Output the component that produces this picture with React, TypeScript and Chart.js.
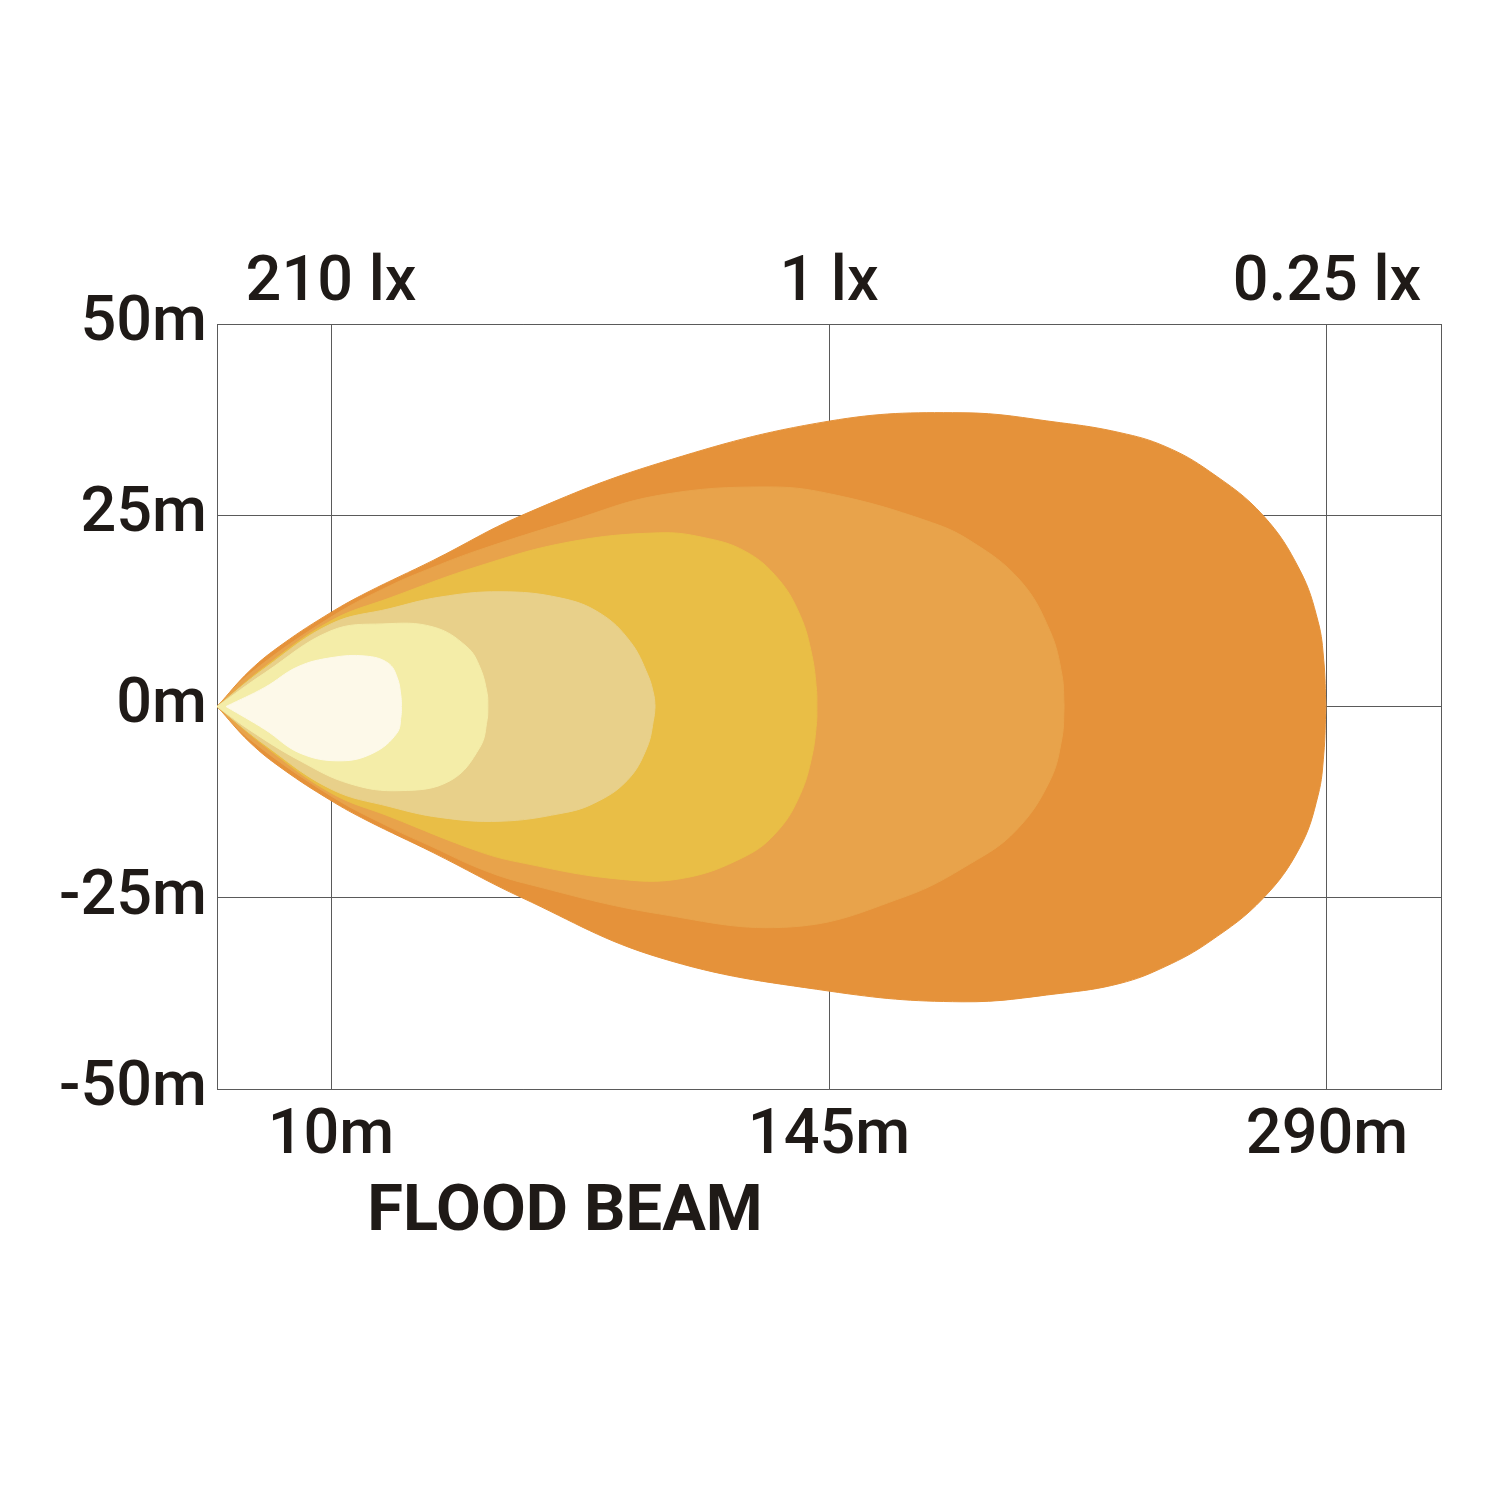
import React, { useEffect, useRef } from "react";
import { Chart, registerables } from "chart.js";

Chart.register(...registerables);

// ---- axis data ----
const X_MIN = -22.05;
const X_MAX = 322.05;
const X_TICKS = [10, 150, 290];
const X_LABELS = ["10m", "145m", "290m"];
const TOP_LABELS = ["210 lx", "1 lx", "0.25 lx"];
const Y_TICKS = [-50, -25, 0, 25, 50];
const Y_LABELS = ["-50m", "-25m", "0m", "25m", "50m"];
const CHART_TITLE = "FLOOD BEAM";

// ---- beam contours (distance, lateral offset in m) ----
const OUTER_UPPER = [
  [-22.0, 0], [-12.8, 4.7], [-3.5, 8.2], [10.0, 12.3], [20.1, 14.9], [38.7, 19.1],
  [63.7, 25.0], [102.2, 31.8], [150.0, 37.3], [187.4, 38.4], [215.0, 37.1], [231.8, 35.8],
  [244.5, 34.0], [257.1, 30.7], [272.0, 25.0], [282.4, 17.8], [287.5, 11.1], [289.1, 6.0], [289.7, 0],
];
const OUTER_LOWER = [
  [-22.0, 0], [-12.8, -4.7], [-3.5, -8.2], [10.0, -12.3], [20.1, -14.9], [38.7, -19.1],
  [63.7, -25.0], [102.2, -32.8], [150.0, -37.2], [187.4, -38.6], [215.0, -37.5], [231.8, -36.2],
  [244.5, -34.0], [257.1, -30.7], [272.0, -25.1], [282.4, -18.4], [287.5, -11.6], [289.1, -6.2], [289.7, 0],
];
const SECOND_UPPER = [
  [-22.0, 0], [-12.8, 4.3], [10.0, 11.7], [26.6, 15.8], [38.7, 18.2], [51.9, 20.5],
  [76.9, 24.2], [102.1, 27.6], [133.4, 28.7], [152.3, 27.6], [177.3, 24.3], [189.6, 21.7],
  [203.7, 16.5], [212.1, 9.9], [215.5, 4.1], [216.1, 0],
];
const SECOND_LOWER = [
  [-22.0, 0], [-12.8, -4.3], [10.0, -11.7], [26.6, -15.8], [38.7, -18.4], [51.9, -21.2],
  [64.4, -23.1], [102.1, -27.1], [139.7, -28.8], [171.1, -24.9], [189.9, -20.5], [202.6, -16.2],
  [212.1, -9.7], [215.5, -4.1], [216.1, 0],
];
const YELLOW_UPPER = [
  [-22.0, 0], [-8.6, 5.2], [10.0, 11.2], [26.6, 14.2], [51.9, 18.4], [76.9, 21.5],
  [102.1, 22.7], [114.6, 22.1], [126.4, 20.3], [135.7, 16.7], [141.9, 11.9], [145.2, 6.7],
  [146.5, 2.1], [146.6, 0],
];
const YELLOW_LOWER = [
  [-22.0, 0], [-8.6, -5.2], [10.0, -11.3], [26.6, -14.4], [51.9, -19.0], [64.4, -20.5],
  [89.6, -22.5], [108.4, -22.5], [126.4, -19.6], [135.7, -16.2], [141.9, -11.5], [145.2, -6.5],
  [146.5, -2.1], [146.6, 0],
];
const TAN_UPPER = [
  [-22.0, 0], [-8.6, 5.0], [10.0, 10.8], [26.6, 12.8], [40.6, 14.3], [57.5, 15.0],
  [74.4, 14.2], [85.6, 12.2], [94.1, 8.5], [99.1, 4.1], [100.8, 1.4], [101.1, 0],
];
const TAN_LOWER = [
  [-22.0, 0], [-8.6, -5.0], [10.0, -10.8], [26.6, -13.1], [40.6, -14.5], [57.5, -15.0],
  [74.4, -14.0], [83.7, -12.7], [93.2, -9.7], [98.8, -5.4], [100.8, -1.4], [101.1, 0],
];
const PALE_UPPER = [
  [-22.0, 0], [-8.6, 4.4], [10.0, 9.9], [24.6, 10.8], [38.7, 10.4], [48.2, 7.8],
  [51.9, 5.1], [53.9, 1.7], [54.1, 0],
];
const PALE_LOWER = [
  [-22.0, 0], [-12.8, -3.1], [1.3, -7.1], [15.3, -10.1], [29.4, -11.0], [43.5, -9.7],
  [51.9, -5.3], [53.9, -1.7], [54.1, 0],
];
const CREAM_UPPER = [
  [-19.5, 0], [-8.6, 2.5], [0.7, 5.2], [10.3, 6.4], [19.6, 6.6], [26.0, 5.7],
  [28.6, 3.8], [29.7, 1.2], [29.8, 0],
];
const CREAM_LOWER = [
  [-19.5, 0], [-8.6, -3.0], [1.3, -6.1], [12.5, -7.1], [21.8, -6.1], [28.5, -3.5],
  [29.7, -1.2], [29.8, 0],
];

// inner to outer
const ZONES = [
  { name: "cream", upper: CREAM_UPPER, lower: CREAM_LOWER, color: "#FDF9E9" },
  { name: "pale", upper: PALE_UPPER, lower: PALE_LOWER, color: "#F4EDA8" },
  { name: "tan", upper: TAN_UPPER, lower: TAN_LOWER, color: "#E8D08A" },
  { name: "yellow", upper: YELLOW_UPPER, lower: YELLOW_LOWER, color: "#E9BE46" },
  { name: "second", upper: SECOND_UPPER, lower: SECOND_LOWER, color: "#E8A34B" },
  { name: "outer", upper: OUTER_UPPER, lower: OUTER_LOWER, color: "#E5923A" },
];

const TEXT_COLOR = "#1f1a17";
const GRID_COLOR = "#5a5a5a";
const FONT_FAMILY = "Roboto, 'DejaVu Sans', sans-serif";

const titlePlugin = {
  id: "beamTitle",
  afterDraw(chart: any) {
    const { ctx, chartArea } = chart;
    ctx.save();
    ctx.font = `700 65px ${FONT_FAMILY}`;
    ctx.fillStyle = TEXT_COLOR;
    ctx.textAlign = "center";
    ctx.textBaseline = "alphabetic";
    ctx.fillText(CHART_TITLE, chartArea.left + 348, chartArea.bottom + 141);
    ctx.restore();
  },
};

export default function App() {
  const canvasRef = useRef<HTMLCanvasElement | null>(null);

  useEffect(() => {
    if (!canvasRef.current) return;
    const datasets: any[] = [];
    ZONES.forEach((z) => {
      datasets.push({
        label: z.name + " upper",
        data: z.upper.map(([x, y]) => ({ x, y })),
        backgroundColor: z.color,
        borderColor: z.color,
        borderWidth: 1,
        pointRadius: 0,
        tension: 0.4,
        fill: "+1",
        xAxisID: "x",
        yAxisID: "y",
      });
      datasets.push({
        label: z.name + " lower",
        data: z.lower.map(([x, y]) => ({ x, y })),
        backgroundColor: z.color,
        borderColor: z.color,
        borderWidth: 1,
        pointRadius: 0,
        tension: 0.4,
        fill: false,
        xAxisID: "x",
        yAxisID: "y",
      });
    });

    const tickFont = { family: FONT_FAMILY, size: 63, weight: 500 as any };

    const chart = new Chart(canvasRef.current, {
      type: "line",
      data: { datasets },
      plugins: [titlePlugin],
      options: {
        responsive: false,
        animation: false,
        devicePixelRatio: 1,
        layout: { padding: 0 },
        plugins: {
          legend: { display: false },
          tooltip: { enabled: false },
          title: { display: false },
        },
        scales: {
          x: {
            type: "linear",
            position: "bottom",
            min: X_MIN,
            max: X_MAX,
            afterBuildTicks: (s: any) => {
              s.ticks = X_TICKS.map((v) => ({ value: v }));
            },
            afterFit: (s: any) => {
              s.height = 409;
            },
            ticks: {
              autoSkip: false,
              maxRotation: 0,
              padding: 10,
              color: TEXT_COLOR,
              font: tickFont,
              callback: (_v: any, i: number) => X_LABELS[i],
            },
            grid: { color: GRID_COLOR, lineWidth: 1, drawTicks: false },
            border: { display: true, color: GRID_COLOR, width: 1 },
          },
          x2: {
            type: "linear",
            position: "top",
            min: X_MIN,
            max: X_MAX,
            afterBuildTicks: (s: any) => {
              s.ticks = X_TICKS.map((v) => ({ value: v }));
            },
            afterFit: (s: any) => {
              s.height = 324;
            },
            ticks: {
              autoSkip: false,
              maxRotation: 0,
              padding: 2,
              color: TEXT_COLOR,
              font: tickFont,
              callback: (_v: any, i: number) => TOP_LABELS[i],
            },
            grid: { display: false, drawTicks: false },
            border: { display: true, color: GRID_COLOR, width: 1 },
          },
          y: {
            type: "linear",
            position: "left",
            min: -50,
            max: 50,
            afterBuildTicks: (s: any) => {
              s.ticks = Y_TICKS.map((v) => ({ value: v }));
            },
            afterFit: (s: any) => {
              s.width = 217;
            },
            ticks: {
              autoSkip: false,
              padding: 10,
              color: TEXT_COLOR,
              font: tickFont,
              callback: (_v: any, i: number) => Y_LABELS[i],
            },
            grid: { color: GRID_COLOR, lineWidth: 1, drawTicks: false },
            border: { display: true, color: GRID_COLOR, width: 1 },
          },
          y2: {
            type: "linear",
            position: "right",
            min: -50,
            max: 50,
            afterFit: (s: any) => {
              s.width = 59;
            },
            ticks: { display: false },
            grid: { display: false, drawTicks: false },
            border: { display: true, color: GRID_COLOR, width: 1 },
          },
        },
      } as any,
    });
    return () => chart.destroy();
  }, []);

  return (
    <div style={{ position: "absolute", left: 0, top: 0, width: 1500, height: 1498, background: "#ffffff" }}>
      <canvas ref={canvasRef} width={1500} height={1498} style={{ display: "block" }} />
    </div>
  );
}
